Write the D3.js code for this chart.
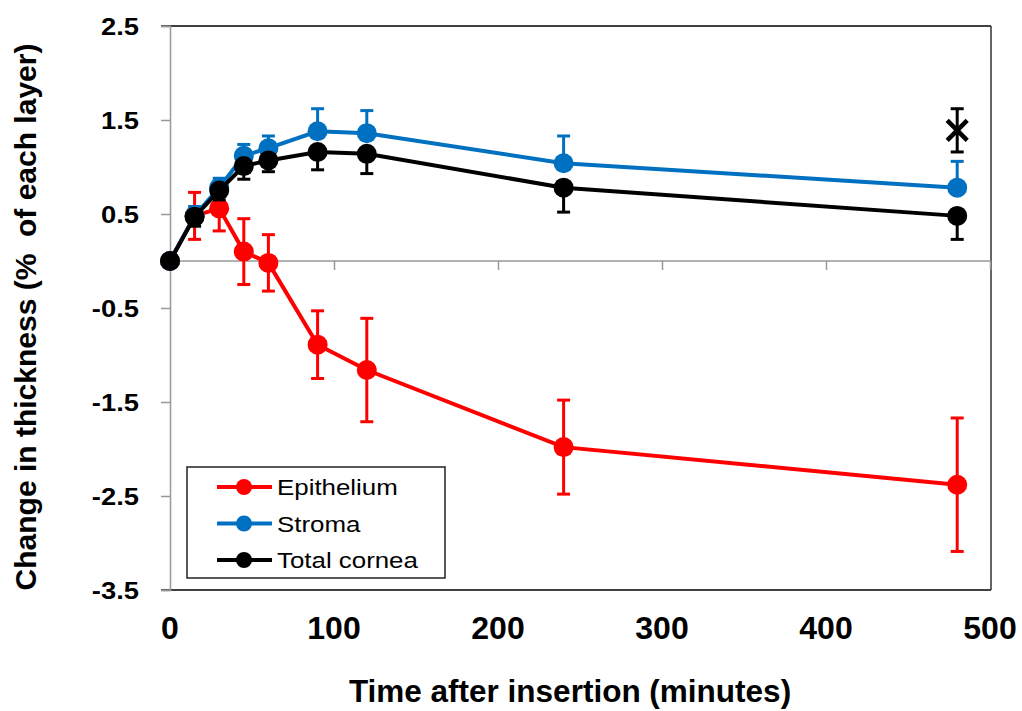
<!DOCTYPE html>
<html>
<head>
<meta charset="utf-8">
<script src="https://cdn.jsdelivr.net/npm/d3@7"></script>
<style>
  body { margin: 0; background: #fff; }
  svg { display: block; font-family: "Liberation Sans", Arial, sans-serif; }
</style>
</head>
<body>
<div id="chart"></div>
<script>
// data
var times = [0, 15, 30, 45, 60, 90, 120, 240, 480];
var epithelium = [0, 0.48, 0.56, 0.10, -0.02, -0.89, -1.16, -1.98, -2.38];
var epitheliumErr = [0, 0.25, 0.24, 0.35, 0.30, 0.36, 0.55, 0.50, 0.71];
var stroma = [0, 0.48, 0.78, 1.12, 1.20, 1.38, 1.36, 1.04, 0.78];
var stromaErr = [0, 0.10, 0.10, 0.12, 0.13, 0.24, 0.24, 0.29, 0.28];
var total = [0, 0.47, 0.75, 1.01, 1.07, 1.16, 1.14, 0.78, 0.48];
var totalErr = [0, 0.10, 0.10, 0.14, 0.12, 0.19, 0.21, 0.26, 0.25];
var extraPoint = [480, 1.39];
var extraErr = 0.23;
var yTicks = [2.5, 1.5, 0.5, -0.5, -1.5, -2.5, -3.5];
var xTicks = [0, 100, 200, 300, 400, 500];
var seriesNames = ["Epithelium", "Stroma", "Total cornea"];
var seriesColors = ["#ff0000", "#0070c0", "#000000"];

var width = 1022, height = 711;
var pLeft = 170, pRight = 991, pTop = 26, pBottom = 590;

var x = d3.scaleLinear().domain([0, 500]).range([pLeft, pRight - 1]);
var y = d3.scaleLinear().domain([-3.5, 2.5]).range([pBottom, pTop]);

var svg = d3.select("#chart")
  .append("svg")
  .attr("width", width)
  .attr("height", height);

//frame
svg.append("line").attr("x1", pLeft - 9).attr("x2", pRight).attr("y1", pTop).attr("y2", pTop)
  .attr("stroke", "#000").attr("stroke-width", 1.5);
svg.append("line").attr("x1", pLeft - 9).attr("x2", pRight).attr("y1", pBottom).attr("y2", pBottom)
  .attr("stroke", "#000").attr("stroke-width", 1.5);
svg.append("line").attr("x1", pRight).attr("x2", pRight).attr("y1", pTop).attr("y2", pBottom)
  .attr("stroke", "#333").attr("stroke-width", 1.5);

//y axis (labels drawn separately, they are a bit stretched)
var yAxis = svg.append("g")
  .attr("transform", "translate(" + pLeft + ",0)")
  .call(d3.axisLeft(y).tickValues(yTicks).tickSize(9).tickFormat(""));
yAxis.select(".domain").attr("stroke", "#999").attr("stroke-width", 1.5);
yAxis.selectAll(".tick line").attr("stroke", "#999").attr("stroke-width", 1.5);

svg.append("g").selectAll("text")
  .data(yTicks)
  .enter()
  .append("text")
  .attr("transform", d => "translate(139," + (y(d) + 8.5) + ") scale(1.14,1)")
  .attr("text-anchor", "end")
  .style("font-size", "24px")
  .style("font-weight", "bold")
  .text(d => d.toFixed(1));

//x axis line at zero
var xAxis = svg.append("g")
  .attr("transform", "translate(0," + y(0) + ")")
  .call(d3.axisBottom(x).tickValues(xTicks.slice(1)).tickSize(9).tickFormat(""));
xAxis.select(".domain").attr("stroke", "#999").attr("stroke-width", 1.5)
  .attr("d", "M" + pLeft + ",0H" + pRight);
xAxis.selectAll(".tick line").attr("stroke", "#999").attr("stroke-width", 1.5);

//x tick labels at the bottom
svg.append("g").selectAll("text")
  .data(xTicks)
  .enter()
  .append("text")
  .attr("x", d => x(d))
  .attr("y", 639)
  .attr("text-anchor", "middle")
  .style("font-size", "32px")
  .style("font-weight", "bold")
  .text(d => d);

//titles
svg.append("text")
  .attr("x", 570)
  .attr("y", 702)
  .attr("text-anchor", "middle")
  .style("font-size", "31.5px")
  .style("font-weight", "bold")
  .text("Time after insertion (minutes)");

svg.append("text")
  .attr("transform", "translate(36,317) rotate(-90)")
  .attr("text-anchor", "middle")
  .style("font-size", "30px")
  .style("font-weight", "bold")
  .style("white-space", "pre")
  .text("Change in thickness (%  of each layer)");

//series
var series = [
  { name: seriesNames[0], color: seriesColors[0], vals: epithelium, err: epitheliumErr, up: true, down: true },
  { name: seriesNames[1], color: seriesColors[1], vals: stroma, err: stromaErr, up: true, down: false },
  { name: seriesNames[2], color: seriesColors[2], vals: total, err: totalErr, up: false, down: true }
];

var line = d3.line()
  .x(d => x(d.t))
  .y(d => y(d.v));

var cap = 6.5;

series.forEach(function(s) {
  var pts = times.map(function(t, i) { return { t: t, v: s.vals[i], e: s.err[i] }; });
  var g = svg.append("g");

  // error bars
  var bars = g.selectAll(".err")
    .data(pts.filter(d => d.e > 0))
    .enter()
    .append("g");
  bars.append("line")
    .attr("x1", d => x(d.t)).attr("x2", d => x(d.t))
    .attr("y1", d => y(s.up ? d.v + d.e : d.v))
    .attr("y2", d => y(s.down ? d.v - d.e : d.v))
    .attr("stroke", s.color).attr("stroke-width", 3);
  if (s.up) {
    bars.append("line")
      .attr("x1", d => x(d.t) - cap).attr("x2", d => x(d.t) + cap)
      .attr("y1", d => y(d.v + d.e)).attr("y2", d => y(d.v + d.e))
      .attr("stroke", s.color).attr("stroke-width", 3);
  }
  if (s.down) {
    bars.append("line")
      .attr("x1", d => x(d.t) - cap).attr("x2", d => x(d.t) + cap)
      .attr("y1", d => y(d.v - d.e)).attr("y2", d => y(d.v - d.e))
      .attr("stroke", s.color).attr("stroke-width", 3);
  }

  g.append("path")
    .datum(pts)
    .attr("d", line)
    .attr("fill", "none")
    .attr("stroke", s.color)
    .attr("stroke-width", 4);

  g.selectAll("circle")
    .data(pts)
    .enter()
    .append("circle")
    .attr("cx", d => x(d.t))
    .attr("cy", d => y(d.v))
    .attr("r", 10)
    .attr("fill", s.color);
});

//the X marker at 480
var xm = svg.append("g");
var ex = x(extraPoint[0]), ey = y(extraPoint[1]);
xm.append("line").attr("x1", ex).attr("x2", ex)
  .attr("y1", y(extraPoint[1] + extraErr)).attr("y2", y(extraPoint[1] - extraErr))
  .attr("stroke", "#000").attr("stroke-width", 3);
[extraPoint[1] + extraErr, extraPoint[1] - extraErr].forEach(function(v) {
  xm.append("line").attr("x1", ex - cap).attr("x2", ex + cap)
    .attr("y1", y(v)).attr("y2", y(v))
    .attr("stroke", "#000").attr("stroke-width", 3);
});
xm.append("path")
  .attr("d", "M" + (ex - 10) + "," + (ey - 10) + "L" + (ex + 10) + "," + (ey + 10) +
    "M" + (ex + 10) + "," + (ey - 10) + "L" + (ex - 10) + "," + (ey + 10))
  .attr("stroke", "#000").attr("stroke-width", 4.5).attr("fill", "none");

//legend
var legend = svg.append("g").attr("transform", "translate(187,467)");
legend.append("rect")
  .attr("width", 258).attr("height", 111)
  .attr("fill", "#fff").attr("stroke", "#222").attr("stroke-width", 1.5);
var rows = legend.selectAll(".row")
  .data(series)
  .enter()
  .append("g")
  .attr("transform", (d, i) => "translate(0," + (20 + i * 36.5) + ")");
rows.append("line")
  .attr("x1", 30).attr("x2", 85)
  .attr("stroke", d => d.color).attr("stroke-width", 4);
rows.append("circle")
  .attr("cx", 57).attr("r", 8)
  .attr("fill", d => d.color);
rows.append("text")
  .attr("transform", "translate(90,8) scale(1.15,1)")
  .style("font-size", "22.5px")
  .text(d => d.name);
</script>
</body>
</html>
